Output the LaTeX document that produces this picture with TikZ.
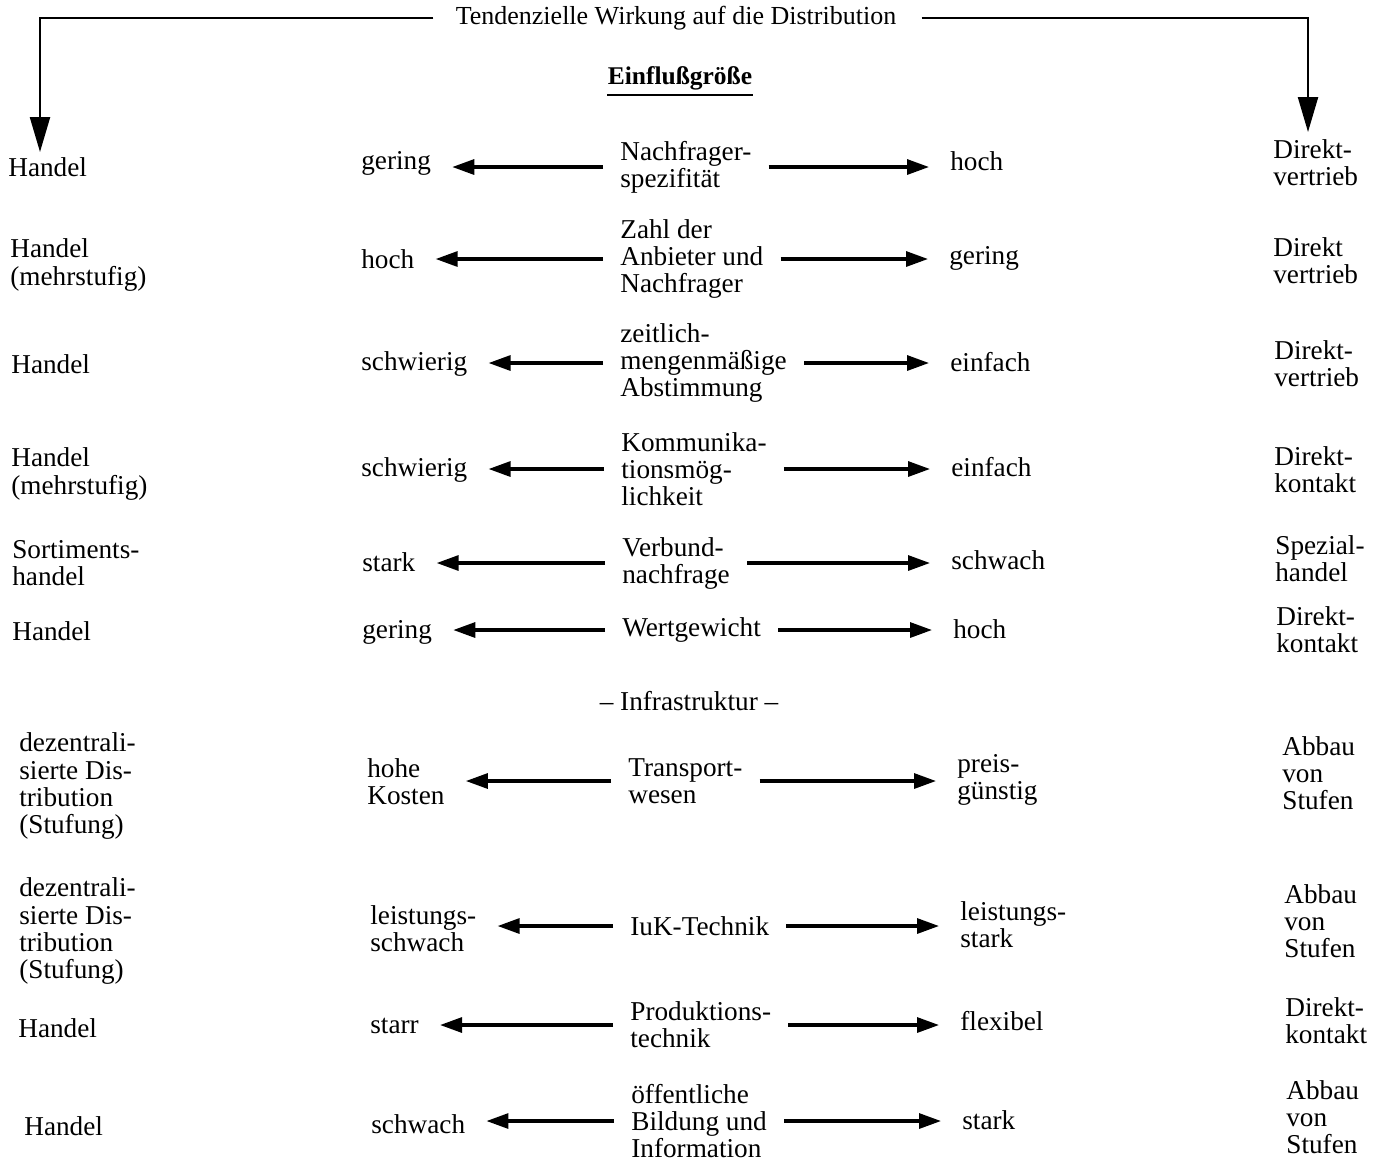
\documentclass[tikz,border=0pt]{standalone}
\usepackage{fontspec}
\setmainfont{Liberation Serif}
\usetikzlibrary{arrows.meta,positioning}

\begin{document}
\begin{tikzpicture}[x=0.02cm,y=-0.02cm,
    txt/.style={font=\fontsize{15.5}{15.4}\selectfont,align=left,inner sep=0pt,anchor=west},
    kopf/.style={font=\fontsize{14.8}{15}\selectfont,inner sep=0pt},
    tend/.style={-{Triangle[length=0.44cm,width=0.3cm]},line width=1.8pt,
        shorten <=0.34cm,shorten >=0.42cm},
    wirk/.style={-{Triangle[length=0.7cm,width=0.4cm]},line width=1.3pt}]
\useasboundingbox (0,0) rectangle (1378,1161);
% Kopfzeile
\node[kopf] (tw) at (676,18) {Tendenzielle Wirkung auf die Distribution};
\coordinate (th) at (40,152);
\coordinate (td) at (1308,132);
\draw[wirk,shorten <=0.44cm] (tw.west) -| (th);
\draw[wirk,shorten <=0.5cm] (tw.east) -| (td);
\node[font=\fontsize{14.5}{14.5}\selectfont\bfseries,inner sep=0pt] (eg) at (680,78) {Einflußgröße};
\draw[line width=1.3pt] ([yshift=-0.1cm]eg.south west) -- ([yshift=-0.1cm]eg.south east);

% Nachfragerspezifitaet
\node[txt] (hd1) at (8,167) {Handel};
\node[txt] (lo1) at (361,163) {gering};
\node[txt] (ef1) at (620,167) {Nachfrager-\\spezifität};
\node[txt] (hi1) at (950,161) {hoch};
\node[txt] (dv1) at (1273,163) {Direkt-\\vertrieb};
\draw[tend] (ef1.west) -- (ef1.west -| lo1.east);
\draw[tend] (ef1.east) -- (ef1.east -| hi1.west);

% Zahl der Anbieter
\node[txt] (hd2) at (10,265) {Handel\\(mehrstufig)};
\node[txt] (lo2) at (361,259) {hoch};
\node[txt] (ef2) at (620,259) {Zahl der\\Anbieter und\\Nachfrager};
\node[txt] (hi2) at (949,258) {gering};
\node[txt] (dv2) at (1273,261) {Direkt\\vertrieb};
\draw[tend] (ef2.west) -- (ef2.west -| lo2.east);
\draw[tend] (ef2.east) -- (ef2.east -| hi2.west);

% Abstimmung
\node[txt] (hd3) at (11,364) {Handel};
\node[txt] (lo3) at (361,364) {schwierig};
\node[txt] (ef3) at (620,363) {zeitlich-\\mengenmäßige\\Abstimmung};
\node[txt] (hi3) at (950,362) {einfach};
\node[txt] (dv3) at (1274,364) {Direkt-\\vertrieb};
\draw[tend] (ef3.west) -- (ef3.west -| lo3.east);
\draw[tend] (ef3.east) -- (ef3.east -| hi3.west);

% Kommunikation
\node[txt] (hd4) at (11,474) {Handel\\(mehrstufig)};
\node[txt] (lo4) at (361,470) {schwierig};
\node[txt] (ef4) at (621,469) {Kommunika-\\tionsmög-\\lichkeit};
\node[txt] (hi4) at (951,467) {einfach};
\node[txt] (dv4) at (1274,470) {Direkt-\\kontakt};
\draw[tend] (ef4.west) -- (ef4.west -| lo4.east);
\draw[tend] (ef4.east) -- (ef4.east -| hi4.west);

% Verbundnachfrage
\node[txt] (hd5) at (12,563) {Sortiments-\\handel};
\node[txt] (lo5) at (362,562) {stark};
\node[txt] (ef5) at (622,563) {Verbund-\\nachfrage};
\node[txt] (hi5) at (951,560) {schwach};
\node[txt] (dv5) at (1275,559) {Spezial-\\handel};
\draw[tend] (ef5.west) -- (ef5.west -| lo5.east);
\draw[tend] (ef5.east) -- (ef5.east -| hi5.west);

% Wertgewicht
\node[txt] (hd6) at (12,631) {Handel};
\node[txt] (lo6) at (362,632) {gering};
\node[txt] (ef6) at (622,630) {Wertgewicht};
\node[txt] (hi6) at (953,629) {hoch};
\node[txt] (dv6) at (1276,630) {Direkt-\\kontakt};
\draw[tend] (ef6.west) -- (ef6.west -| lo6.east);
\draw[tend] (ef6.east) -- (ef6.east -| hi6.west);

\node[txt,anchor=center] (inf) at (689,701) {– Infrastruktur –};

% Transportwesen
\node[txt] (hd7) at (19,786) {dezentrali-\\sierte Dis-\\tribution\\(Stufung)};
\node[txt] (lo7) at (367,782) {hohe\\Kosten};
\node[txt] (ef7) at (628,781) {Transport-\\wesen};
\node[txt] (hi7) at (957,780) {preis-\\günstig};
\node[txt] (dv7) at (1282,773) {Abbau\\von\\Stufen};
\draw[tend] (ef7.west) -- (ef7.west -| lo7.east);
\draw[tend] (ef7.east) -- (ef7.east -| hi7.west);

% IuK-Technik
\node[txt] (hd8) at (19,931) {dezentrali-\\sierte Dis-\\tribution\\(Stufung)};
\node[txt] (lo8) at (370,929) {leistungs-\\schwach};
\node[txt] (ef8) at (630,926) {IuK-Technik};
\node[txt] (hi8) at (960,925) {leistungs-\\stark};
\node[txt] (dv8) at (1284,921) {Abbau\\von\\Stufen};
\draw[tend] (ef8.west) -- (ef8.west -| lo8.east);
\draw[tend] (ef8.east) -- (ef8.east -| hi8.west);

% Produktionstechnik
\node[txt] (hd9) at (18,1028) {Handel};
\node[txt] (lo9) at (370,1026) {starr};
\node[txt] (ef9) at (630,1025) {Produktions-\\technik};
\node[txt] (hi9) at (960,1021) {flexibel};
\node[txt] (dv9) at (1285,1021) {Direkt-\\kontakt};
\draw[tend] (ef9.west) -- (ef9.west -| lo9.east);
\draw[tend] (ef9.east) -- (ef9.east -| hi9.west);

% Bildung und Information
\node[txt] (hd10) at (24,1126) {Handel};
\node[txt] (lo10) at (371,1124) {schwach};
\node[txt] (ef10) at (631,1121) {öffentliche\\Bildung und\\Information};
\node[txt] (hi10) at (962,1120) {stark};
\node[txt] (dv10) at (1286,1117) {Abbau\\von\\Stufen};
\draw[tend] (ef10.west) -- (ef10.west -| lo10.east);
\draw[tend] (ef10.east) -- (ef10.east -| hi10.west);
\end{tikzpicture}
\end{document}
